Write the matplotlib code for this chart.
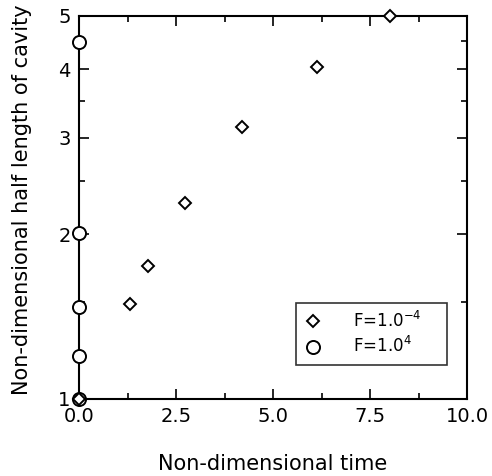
import matplotlib
matplotlib.use("Agg")
from matplotlib import pyplot as plt
from matplotlib.ticker import FixedLocator, NullFormatter

plt.rcParams['font.family'] = ['DejaVu Sans']

# F = 1.0e-4 (diamonds)
t_small = [0.0, 1.31, 1.78, 2.73, 4.2, 6.13, 8.02]
len_small = [1.0, 1.49, 1.75, 2.28, 3.13, 4.03, 5.0]

# F = 1.0e4 (circles)
t_big = [0.0, 0.0, 0.0, 0.0, 0.0]
len_big = [1.0, 1.2, 1.47, 2.01, 4.48]

fig = plt.figure(figsize=(4.92, 4.76), dpi=100)
ax = fig.add_axes([0.1606, 0.1618, 0.7886, 0.8046])

ax.plot(t_small, len_small, linestyle='none', marker='D', markersize=6.6,
        markerfacecolor='white', markeredgecolor='black', markeredgewidth=1.4,
        clip_on=False, zorder=5, label="F=1.0$^{-4}$")
ax.plot(t_big, len_big, linestyle='none', marker='o', markersize=9.4,
        markerfacecolor='white', markeredgecolor='black', markeredgewidth=1.4,
        clip_on=False, zorder=4, label="F=1.0$^{4}$")

ax.set_yscale('log')
ax.set_xlim(0, 10)
ax.set_ylim(1, 5)
ax.set_xticks([0, 2.5, 5, 7.5, 10])
ax.set_xticklabels(["0.0", "2.5", "5.0", "7.5", "10.0"])
ax.xaxis.set_minor_locator(FixedLocator([1.25, 3.75, 6.25, 8.75]))
ax.yaxis.set_major_locator(FixedLocator([1, 2, 3, 4, 5]))
ax.set_yticklabels(["1", "2", "3", "4", "5"])
ax.yaxis.set_minor_locator(FixedLocator([1.5, 2.5, 3.5, 4.5]))
ax.yaxis.set_minor_formatter(NullFormatter())

ax.tick_params(which='both', direction='in', top=True, right=True,
               labelsize=14, width=1.2)
ax.tick_params(which='major', length=7, pad=6)
ax.tick_params(which='minor', length=4)
for s in ax.spines.values():
    s.set_linewidth(1.5)

ax.set_xlabel("Non-dimensional time", fontsize=15, labelpad=20)
ax.set_ylabel("Non-dimensional half length of cavity", fontsize=15)
ax.yaxis.set_label_coords(-0.122, 0.52)

leg = ax.legend(loc='upper left', bbox_to_anchor=(0.559, 0.086, 0.389, 0.165),
                mode='expand', fontsize=12,
                frameon=True, fancybox=False, edgecolor='black',
                handletextpad=1.9, handlelength=1.0, borderpad=0.5,
                labelspacing=0.3, borderaxespad=0)
leg.get_frame().set_linewidth(1.2)

fig.savefig("out.png", dpi=100)
